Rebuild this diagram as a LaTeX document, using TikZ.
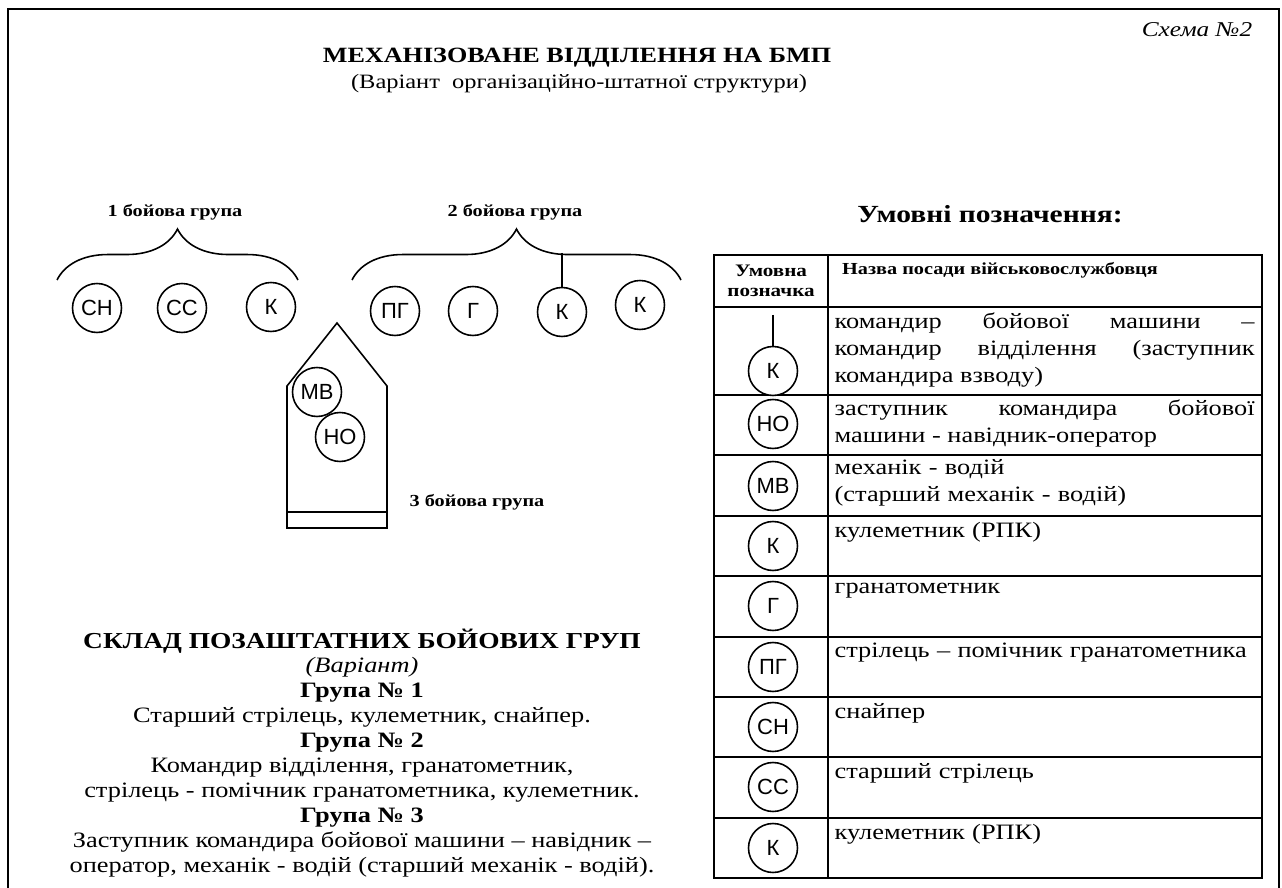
\documentclass[tikz,border=0pt]{standalone}
\usepackage{fontspec}
\setmainfont{Liberation Serif}[FakeStretch=1.2]
\newfontfamily\circfont{Liberation Sans}
\usetikzlibrary{positioning}
\usetikzlibrary{decorations.pathreplacing}
\tikzstyle{soldier} = [draw, circle, fill=white, line width=0.9pt,
    minimum size=0.98cm, inner sep=0pt, font=\circfont\fontsize{12.5}{12.5}\selectfont]
\tikzstyle{grp} = [font=\bfseries\fontsize{9.6}{12}\selectfont]
\tikzstyle{legtext} = [anchor=north west, inner sep=0pt, text width=8.4cm,
    font=\fontsize{12.5}{15.3}\selectfont]
\tikzstyle{gbrace} = [decorate, decoration={brace, amplitude=29pt}, line width=0.9pt]

\begin{document}
\begin{tikzpicture}[x=0.02cm, y=-0.02cm, line width=0.8pt]
    \useasboundingbox (0,0) rectangle (1282,888);
    % frame
    \draw[line width=1.3pt] (8,888) -- (8,9) -- (1279,9) -- (1279,888);

    % titles
    \node (scheme) at (1197,30) {\itshape\fontsize{12}{14}\selectfont Схема №2};
    \node (title) at (577,58) {\bfseries\fontsize{12.4}{15}\selectfont МЕХАНІЗОВАНЕ ВІДДІЛЕННЯ НА БМП};
    \node (subtitle) at (579,84) {\fontsize{11.6}{14}\selectfont (Варіант\ \ організаційно-штатної структури)};

    % combat groups
    \node [grp] (g1) at (175,212) {1 бойова група};
    \node [grp] (g2) at (515,212) {2 бойова група};
    \coordinate (b1w) at (57,280);
    \coordinate (b1e) at (298,280);
    \coordinate (b2w) at (352,280);
    \coordinate (b2e) at (681,280);
    \draw [gbrace] (b1w) -- (b1e);
    \draw [gbrace] (b2w) -- (b2e);

    \node [soldier] (sn) at (97,308) {СН};
    \node [soldier] (ss) at (182,308) {СС};
    \node [soldier] (k1) at (271,307) {К};
    \node [soldier] (pg) at (395,311) {ПГ};
    \node [soldier] (gr) at (473,311) {Г};
    \node [soldier] (kc) at (562,312) {К};
    \node [soldier] (k2) at (640,305) {К};
    \coordinate (stem) at (562,253);
    \draw (stem) -- (kc.north);

    % combat vehicle
    \draw [line width=0.9pt] (287,528) -- (287,386) -- (337,323) -- (387,386) -- (387,528) -- cycle;
    \draw [line width=0.9pt] (287,512) -- (387,512);
    \node [soldier] (mv) at (317,392) {МВ};
    \node [soldier] (no) at (340,437) {НО};
    \node [grp] (g3) at (477,502) {3 бойова група};

    % groups composition
    \node [align=center, font=\fontsize{12.5}{14.2}\selectfont, anchor=north] (comp) at (362,622)
        {{\bfseries\fontsize{13}{14}\selectfont СКЛАД ПОЗАШТАТНИХ БОЙОВИХ ГРУП}\\
         {\itshape (Варіант)}\\
         {\bfseries Група № 1}\\
         Старший стрілець, кулеметник, снайпер.\\
         {\bfseries Група № 2}\\
         Командир відділення, гранатометник,\\
         стрілець - помічник гранатометника, кулеметник.\\
         {\bfseries Група № 3}\\
         Заступник командира бойової машини – навідник –\\
         оператор, механік - водій (старший механік - водій).};

    % legend
    \node (legend) at (990,214) {\bfseries\fontsize{14}{16}\selectfont Умовні позначення:};
    \draw (714,255) rectangle (1262,878);
    \draw (828,255) -- (828,878);
    \draw (714,307) -- (1262,307);
    \draw (714,395) -- (1262,395);
    \draw (714,455) -- (1262,455);
    \draw (714,516) -- (1262,516);
    \draw (714,576) -- (1262,576);
    \draw (714,637) -- (1262,637);
    \draw (714,697) -- (1262,697);
    \draw (714,757) -- (1262,757);
    \draw (714,818) -- (1262,818);
    \node [align=center, font=\bfseries\fontsize{10}{11.5}\selectfont] (hsym) at (771,281) {Умовна\\позначка};
    \node [font=\bfseries\fontsize{9.6}{12}\selectfont] (hname) at (1000,270) {Назва посади військовослужбовця};

    \node [soldier] (lk1) at (773,371) {К};
    \coordinate (lstem) at (773,315);
    \draw (lstem) -- (lk1.north);
    \node [legtext, align=justify] (tk1) at (834,312) {командир бойової машини – командир відділення (заступник командира взводу)};
    \node [soldier] (lno) at (773,424) {НО};
    \node [legtext, align=justify] (tno) at (834,399) {заступник командира бойової машини - навідник-оператор};
    \node [soldier] (lmv) at (773,486) {МВ};
    \node [legtext] (tmv) at (834,459) {механік - водій\\(старший механік - водій)};
    \node [soldier] (lk2) at (773,546) {К};
    \node [legtext] (tk2) at (834,522) {кулеметник (РПК)};
    \node [soldier] (lg) at (773,606) {Г};
    \node [legtext] (tg) at (834,582) {гранатометник};
    \node [soldier] (lpg) at (773,667) {ПГ};
    \node [legtext] (tpg) at (834,642) {стрілець – помічник гранатометника};
    \node [soldier] (lsn) at (773,727) {СН};
    \node [legtext] (tsn) at (834,703) {снайпер};
    \node [soldier] (lss) at (773,787) {СС};
    \node [legtext] (tss) at (834,763) {старший стрілець};
    \node [soldier] (lk3) at (773,848) {К};
    \node [legtext] (tk3) at (834,824) {кулеметник (РПК)};
\end{tikzpicture}
\end{document}
